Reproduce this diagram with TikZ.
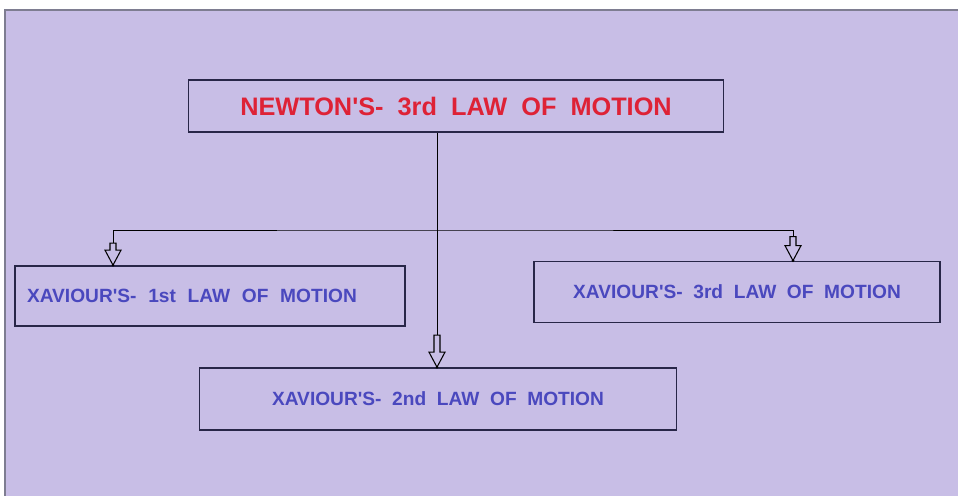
\documentclass[tikz,border=0pt]{standalone}
\usepackage{fontspec}
\setmainfont{Liberation Sans}
\usetikzlibrary{positioning}
\definecolor{LawBack}{RGB}{200,190,230}
\definecolor{LawRed}{RGB}{222,34,54}
\definecolor{LawBlue}{RGB}{74,72,190}
\definecolor{LawEdge}{RGB}{40,38,72}
\begin{document}
\begin{tikzpicture}[x=0.02cm,y=-0.02cm,
  lawbox/.style={draw=LawEdge,line width=1pt,inner sep=0pt,font=\bfseries},
  link/.style={draw=black,line width=0.5pt},
  pics/hollowdown/.style={code={
    \draw[black,fill=LawBack,line width=0.6pt] (0,0) -- (-8,-15) -- (-3,-15) -- (-3,-#1)
      -- (3,-#1) -- (3,-15) -- (8,-15) -- cycle;
    \fill[black] (0,0) circle (1.5);}},
]
\useasboundingbox (0,0) rectangle (958,495);
% page background
\fill[LawBack] (5,10) rectangle (960,497);
\draw[LawEdge!60,line width=1.2pt] (5,497) -- (5,10) -- (960,10);
% boxes
\node[lawbox,minimum width=10.7cm,minimum height=1.04cm,text=LawRed] (newton) at (456,106)
  {\fontsize{14.4}{17}\selectfont NEWTON\textquotesingle S-~~3rd~~LAW~~OF~~MOTION};
\node[lawbox,minimum width=7.8cm,minimum height=1.2cm,text width=7.32cm,align=left,
      text=LawBlue] (first) at (210,296)
  {\fontsize{10.9}{13}\selectfont XAVIOUR\textquotesingle S-~~1st~~LAW~~OF~~MOTION};
\node[lawbox,minimum width=8.12cm,minimum height=1.22cm,text=LawBlue] (third) at (737,292)
  {\fontsize{10.9}{13}\selectfont XAVIOUR\textquotesingle S-~~3rd~~LAW~~OF~~MOTION};
\node[lawbox,minimum width=9.54cm,minimum height=1.24cm,text=LawBlue] (second) at (438,399)
  {\fontsize{10.9}{13}\selectfont XAVIOUR\textquotesingle S-~~2nd~~LAW~~OF~~MOTION};
% connectors
\coordinate (hub) at (437,230);
\coordinate (lft) at (113,230);
\coordinate (rgt) at (793,230);
\draw[link] (newton.south -| hub) -- (second.north -| hub);
\draw[link] (first.north -| lft) |- (hub) -| (third.north -| rgt);
\pic at (first.north -| lft) {hollowdown=22};
\pic at (third.north -| rgt) {hollowdown=24};
\pic at (second.north -| hub) {hollowdown=32};
\end{tikzpicture}
\end{document}
